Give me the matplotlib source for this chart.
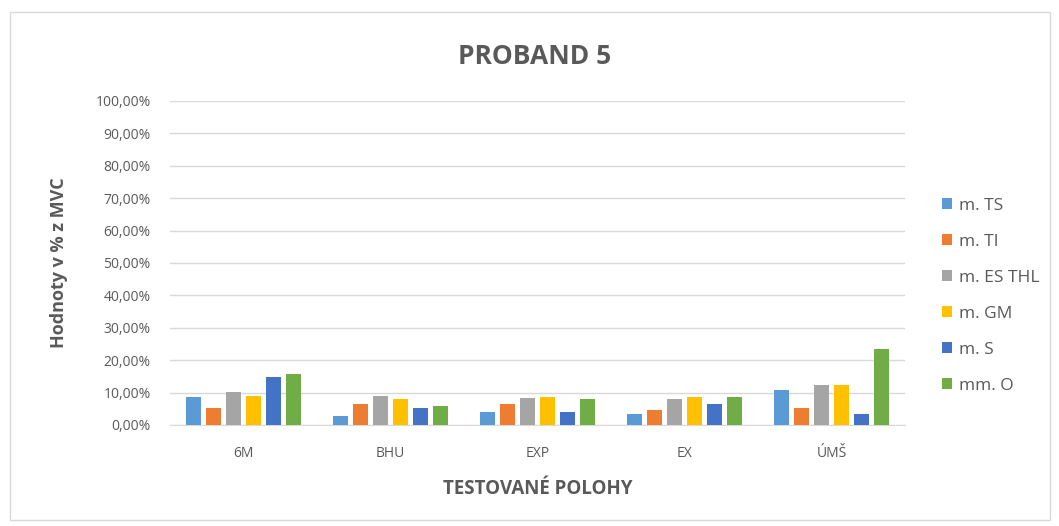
import numpy as np
import matplotlib.pyplot as plt
from matplotlib.ticker import FuncFormatter
from matplotlib.patches import Rectangle

plt.rcParams['font.family'] = ['Open Sans', 'DejaVu Sans']

categories = ['6M', 'BHU', 'EXP', 'EX', 'ÚMŠ']
series_names = ['m. TS', 'm. TI', 'm. ES THL', 'm. GM', 'm. S', 'mm. O']
m_ts = [8.5, 2.8, 4.1, 3.4, 10.8]
m_ti = [5.2, 6.6, 6.6, 4.7, 5.3]
m_es_thl = [10.1, 9.1, 8.4, 8.0, 12.2]
m_gm = [9.1, 8.0, 8.5, 8.6, 12.2]
m_s = [14.8, 5.4, 4.1, 6.6, 3.4]
mm_o = [15.6, 5.9, 8.0, 8.6, 23.4]
series = [m_ts, m_ti, m_es_thl, m_gm, m_s, mm_o]
colors = ['#5B9BD5', '#ED7D31', '#A5A5A5', '#FFC000', '#4472C4', '#70AD47']

txt = '#595959'

fig = plt.figure(figsize=(10.59, 5.26), dpi=100)
ax = fig.add_axes([170/1059, 1 - 425/526, 735/1059, 324/526])

# chart border
fig.patches.append(Rectangle((10/1059, 6/526), 1040/1059, 508/526, transform=fig.transFigure,
                             fill=False, edgecolor='#D9D9D9', linewidth=1))

x = np.arange(len(categories))
step = 0.136
w = 0.107
for i, (vals, name, c) in enumerate(zip(series, series_names, colors)):
    ax.bar(x + (i - 2.5) * step, vals, w, color=c, label=name, zorder=3)

ax.set_ylim(0, 100)
ax.set_xlim(-0.5, 4.5)
ax.set_yticks(np.arange(0, 101, 10))
ax.yaxis.set_major_formatter(FuncFormatter(lambda v, p: f'{v:.2f}%'.replace('.', ',')))
ax.grid(axis='y', color='#D9D9D9', linewidth=1, zorder=0)
ax.set_xticks(x)
ax.set_xticklabels(categories)
ax.tick_params(length=0, colors=txt, labelsize=10)
ax.tick_params(axis='x', pad=15)
ax.tick_params(axis='y', pad=14)
for s in ['top', 'right', 'left']:
    ax.spines[s].set_visible(False)
ax.spines['bottom'].set_color('#D9D9D9')

ax.set_ylabel('Hodnoty v % z MVC', color=txt, fontsize=13, fontweight='bold', labelpad=20)
ax.set_xlabel('TESTOVANÉ POLOHY', color=txt, fontsize=13.5, fontweight='bold', labelpad=13)
fig.text(535/1059, 1 - 57/526, 'PROBAND 5', ha='center', va='center', color=txt,
         fontsize=19, fontweight='bold')

leg = fig.legend(loc='center left', bbox_to_anchor=(926/1059, 1 - 296/526), frameon=False,
                 labelspacing=1.15, handlelength=0.6, handleheight=0.6, handletextpad=0.4,
                 fontsize=12.5)
for t in leg.get_texts():
    t.set_color(txt)

fig.savefig('out.png', dpi=100)
